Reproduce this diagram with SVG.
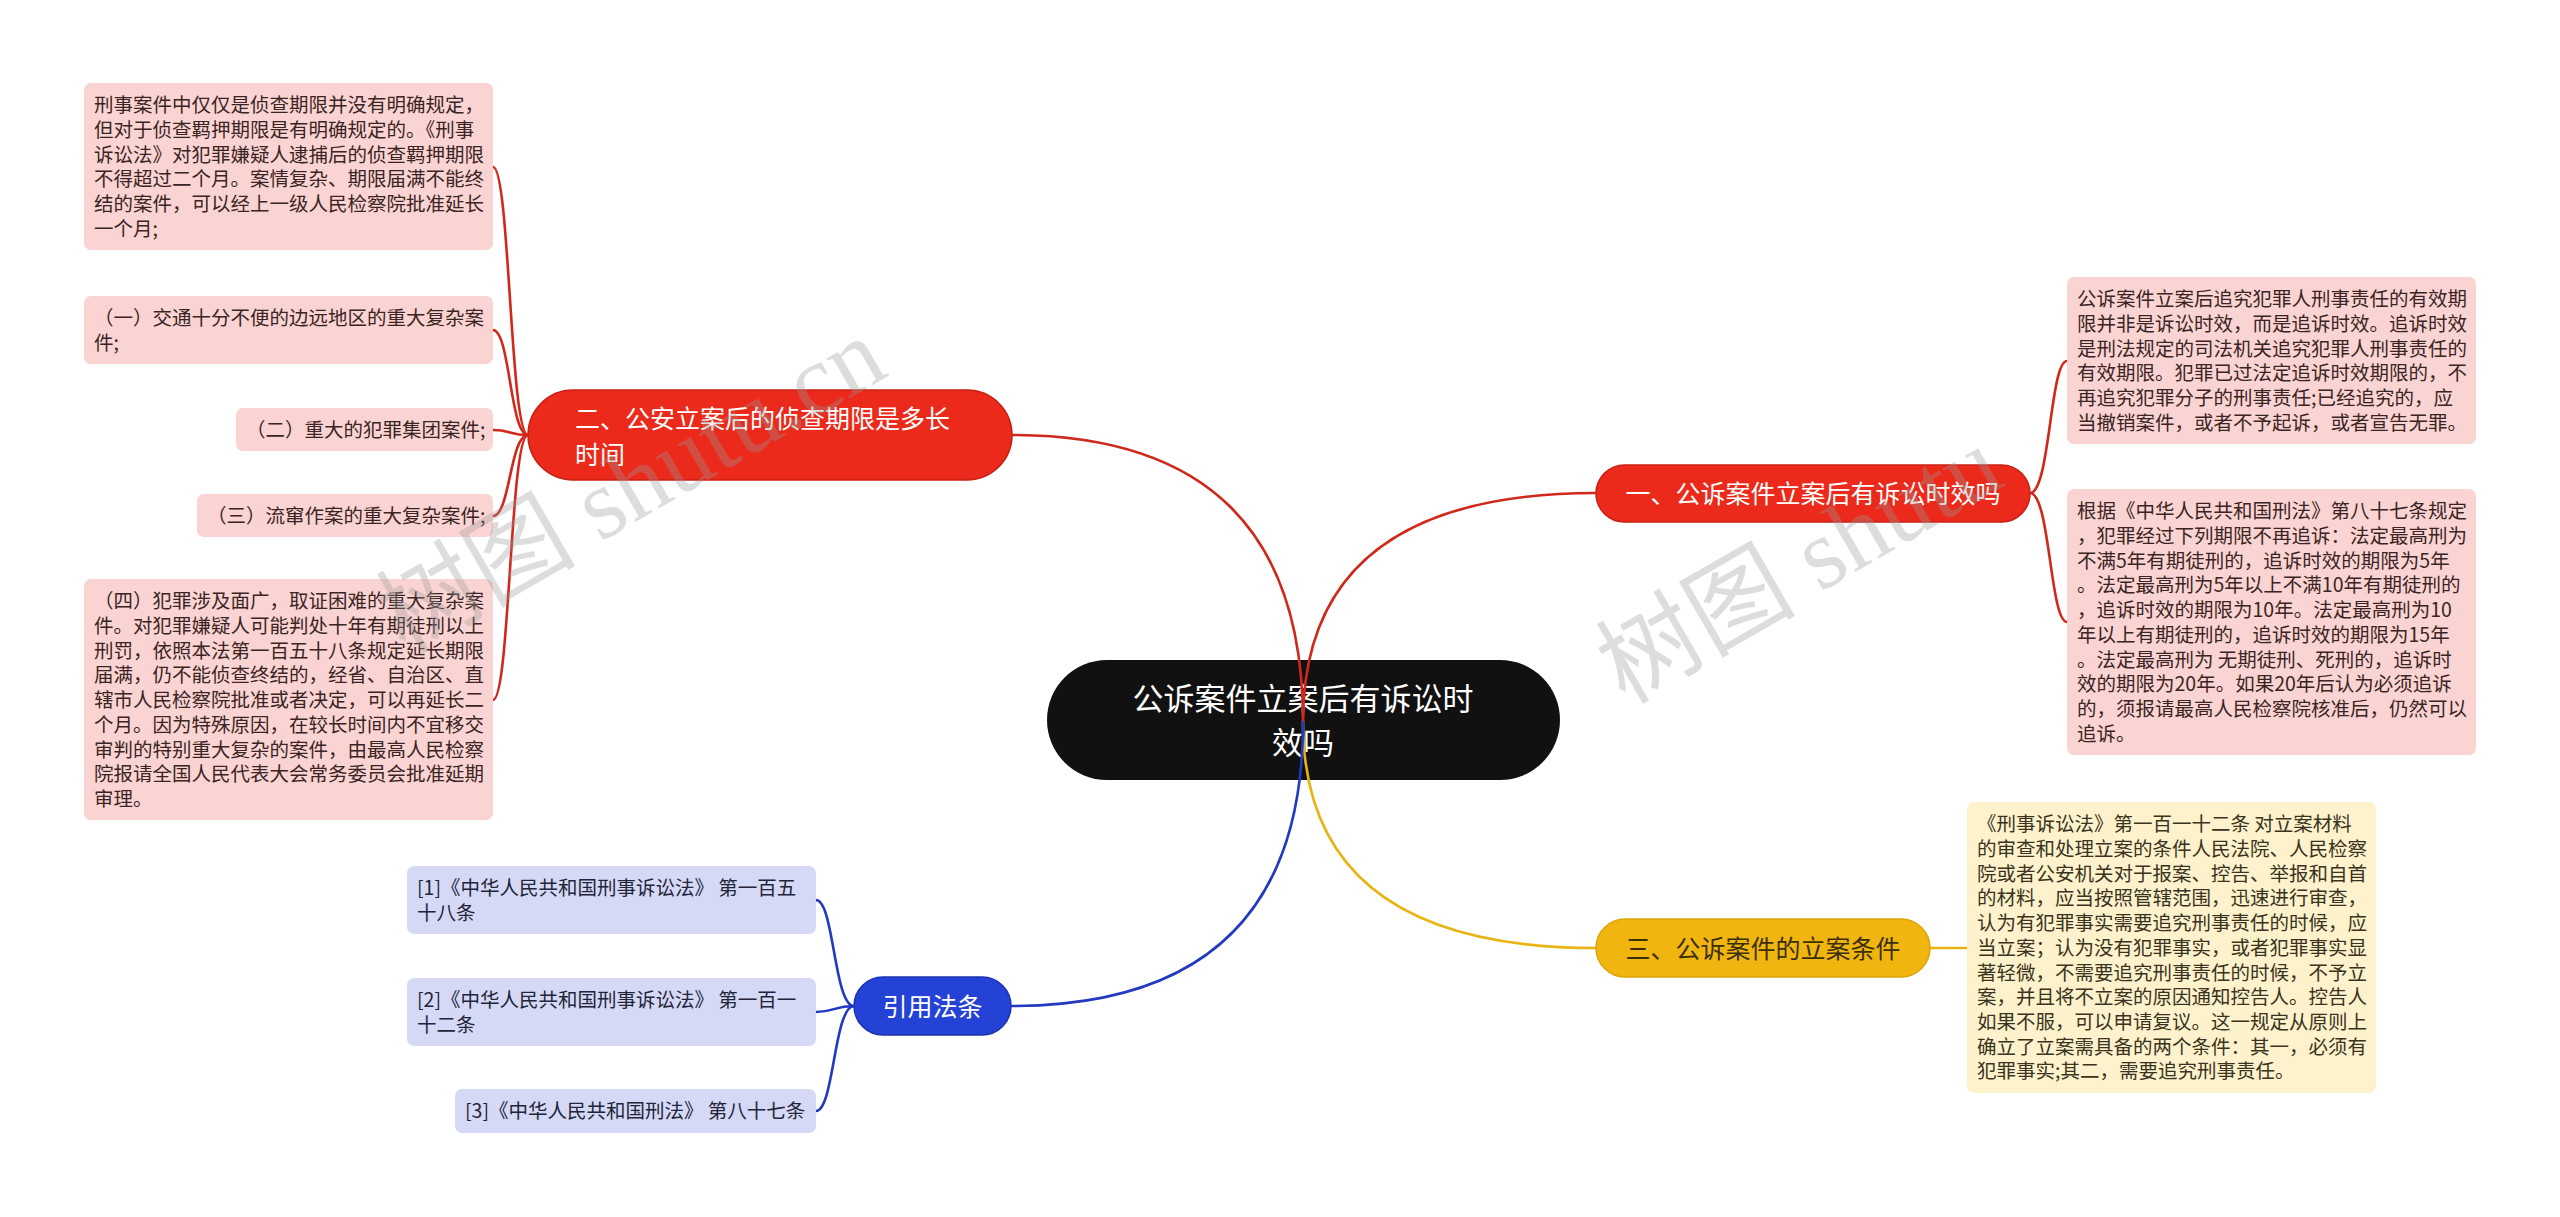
<svg xmlns="http://www.w3.org/2000/svg" width="2560" height="1217" viewBox="0 0 2560 1217">
<style>
text{font-family:"Noto Sans CJK SC","Noto Sans",sans-serif;}
.leafR rect{fill:#FAD4D2;}
.leafR text{fill:#3a2424;font-size:19.5px;}
.leafY rect{fill:#FDF2CC;}
.leafY text{fill:#3a3320;font-size:19.5px;}
.leafB rect{fill:#D5D9F5;}
.leafB text{fill:#22253a;font-size:19.5px;}
.br text{font-size:25px;}
.red rect{fill:#EC2A1B;stroke:#C92014;stroke-width:1.5;}
.yel rect{fill:#F0B60F;stroke:#DDA40A;stroke-width:1.5;}
.blu rect{fill:#2442D6;stroke:#1A33B0;stroke-width:1.5;}
.wt{fill:#ffffff;}
.dk{fill:#3b2f0a;}
.c{fill:none;stroke-width:2.6;stroke-linecap:round;}
.cr{stroke:#D0281B;}
.cy{stroke:#E8B313;}
.cb{stroke:#2339C2;}
.wm{fill:#9a9a9a;opacity:0.33;font-size:100px;font-family:"Liberation Serif","Noto Sans CJK SC",serif;}
</style>

<g id="center">
<rect x="1047" y="660" width="513" height="120" rx="60" fill="#111111"/>
<text x="1303" y="710" font-size="31" fill="#ffffff" text-anchor="middle">公诉案件立案后有诉讼时</text>
<text x="1303" y="754" font-size="31" fill="#ffffff" text-anchor="middle">效吗</text>
</g>

<g id="connectors">
<path class="c cr" d="M1303,722 Q1303,493 1596,493"/>
<path class="c cr" d="M1303,722 Q1303,435 1012,435"/>
<path class="c cy" d="M1303,722 Q1303,948 1596,948"/>
<path class="c cb" d="M1303,722 Q1303,1006 1011,1006"/>
<path class="c cr" d="M2030,493 C2050,493 2050,361 2067,361"/>
<path class="c cr" d="M2030,493 C2050,493 2050,622 2067,622"/>
<path class="c cr" d="M528,435 C510,435 510,167 493,167"/>
<path class="c cr" d="M528,435 C510,435 510,330 493,330"/>
<path class="c cr" d="M528,435 C510,435 510,430 493,430"/>
<path class="c cr" d="M528,435 C510,435 510,516 493,516"/>
<path class="c cr" d="M528,435 C510,435 510,700 493,700"/>
<path class="c cy" d="M1930,948 L1967,948"/>
<path class="c cb" d="M854,1006 C834,1006 834,900 816,900"/>
<path class="c cb" d="M854,1006 C834,1006 834,1012 816,1012"/>
<path class="c cb" d="M854,1006 C834,1006 834,1111 816,1111"/>
</g>

<g id="branch1" class="br red">
<rect x="1596" y="465" width="434" height="57" rx="28.5"/>
<text class="wt" x="1813" y="503" text-anchor="middle">一、公诉案件立案后有诉讼时效吗</text>
</g>
<g id="branch2" class="br red">
<rect x="528" y="390" width="484" height="90" rx="45"/>
<text class="wt" x="575" y="427.5">二、公安立案后的侦查期限是多长</text>
<text class="wt" x="575" y="463.5">时间</text>
</g>
<g id="branch3" class="br yel">
<rect x="1596" y="919" width="334" height="58" rx="29"/>
<text class="dk" x="1763" y="957.5" text-anchor="middle">三、公诉案件的立案条件</text>
</g>
<g id="branch4" class="br blu">
<rect x="854" y="977" width="157" height="58" rx="29"/>
<text class="wt" x="932.5" y="1015.5" text-anchor="middle">引用法条</text>
</g>

<g id="leaf-r1" class="leafR">
<rect x="2067" y="277" width="409" height="167" rx="7"/>
<text x="2077" y="306.3">公诉案件立案后追究犯罪人刑事责任的有效期</text>
<text x="2077" y="331">限并非是诉讼时效，而是追诉时效。追诉时效</text>
<text x="2077" y="355.7">是刑法规定的司法机关追究犯罪人刑事责任的</text>
<text x="2077" y="380.4">有效期限。犯罪已过法定追诉时效期限的，不</text>
<text x="2077" y="405.1">再追究犯罪分子的刑事责任;已经追究的，应</text>
<text x="2077" y="429.8">当撤销案件，或者不予起诉，或者宣告无罪。</text>
</g>
<g id="leaf-r2" class="leafR">
<rect x="2067" y="489" width="409" height="266" rx="7"/>
<text x="2077" y="518.3">根据《中华人民共和国刑法》第八十七条规定</text>
<text x="2077" y="543">，犯罪经过下列期限不再追诉：法定最高刑为</text>
<text x="2077" y="567.7">不满5年有期徒刑的，追诉时效的期限为5年</text>
<text x="2077" y="592.4">。法定最高刑为5年以上不满10年有期徒刑的</text>
<text x="2077" y="617.1">，追诉时效的期限为10年。法定最高刑为10</text>
<text x="2077" y="641.8">年以上有期徒刑的，追诉时效的期限为15年</text>
<text x="2077" y="666.5">。法定最高刑为 无期徒刑、死刑的，追诉时</text>
<text x="2077" y="691.2">效的期限为20年。如果20年后认为必须追诉</text>
<text x="2077" y="715.9">的，须报请最高人民检察院核准后，仍然可以</text>
<text x="2077" y="740.6">追诉。</text>
</g>

<g id="leaf-l1" class="leafR">
<rect x="84" y="83" width="409" height="167" rx="7"/>
<text x="94" y="112.3">刑事案件中仅仅是侦查期限并没有明确规定，</text>
<text x="94" y="137">但对于侦查羁押期限是有明确规定的。《刑事</text>
<text x="94" y="161.7">诉讼法》对犯罪嫌疑人逮捕后的侦查羁押期限</text>
<text x="94" y="186.4">不得超过二个月。案情复杂、期限届满不能终</text>
<text x="94" y="211.1">结的案件，可以经上一级人民检察院批准延长</text>
<text x="94" y="235.8">一个月;</text>
</g>
<g id="leaf-l2" class="leafR">
<rect x="84" y="296" width="409" height="68" rx="7"/>
<text x="94" y="325.3">（一）交通十分不便的边远地区的重大复杂案</text>
<text x="94" y="350">件;</text>
</g>
<g id="leaf-l3" class="leafR">
<rect x="236" y="408" width="257" height="43" rx="7"/>
<text x="246" y="437">（二）重大的犯罪集团案件;</text>
</g>
<g id="leaf-l4" class="leafR">
<rect x="197" y="494" width="296" height="43" rx="7"/>
<text x="207" y="523">（三）流窜作案的重大复杂案件;</text>
</g>
<g id="leaf-l5" class="leafR">
<rect x="84" y="579" width="409" height="241" rx="7"/>
<text x="94" y="608.3">（四）犯罪涉及面广，取证困难的重大复杂案</text>
<text x="94" y="633">件。对犯罪嫌疑人可能判处十年有期徒刑以上</text>
<text x="94" y="657.7">刑罚，依照本法第一百五十八条规定延长期限</text>
<text x="94" y="682.4">届满，仍不能侦查终结的，经省、自治区、直</text>
<text x="94" y="707.1">辖市人民检察院批准或者决定，可以再延长二</text>
<text x="94" y="731.8">个月。因为特殊原因，在较长时间内不宜移交</text>
<text x="94" y="756.5">审判的特别重大复杂的案件，由最高人民检察</text>
<text x="94" y="781.2">院报请全国人民代表大会常务委员会批准延期</text>
<text x="94" y="805.9">审理。</text>
</g>

<g id="leaf-y1" class="leafY">
<rect x="1967" y="802" width="409" height="291" rx="7"/>
<text x="1977" y="831.3">《刑事诉讼法》第一百一十二条 对立案材料</text>
<text x="1977" y="856">的审查和处理立案的条件人民法院、人民检察</text>
<text x="1977" y="880.7">院或者公安机关对于报案、控告、举报和自首</text>
<text x="1977" y="905.4">的材料，应当按照管辖范围，迅速进行审查，</text>
<text x="1977" y="930.1">认为有犯罪事实需要追究刑事责任的时候，应</text>
<text x="1977" y="954.8">当立案；认为没有犯罪事实，或者犯罪事实显</text>
<text x="1977" y="979.5">著轻微，不需要追究刑事责任的时候，不予立</text>
<text x="1977" y="1004.2">案，并且将不立案的原因通知控告人。控告人</text>
<text x="1977" y="1028.9">如果不服，可以申请复议。这一规定从原则上</text>
<text x="1977" y="1053.6">确立了立案需具备的两个条件：其一，必须有</text>
<text x="1977" y="1078.3">犯罪事实;其二，需要追究刑事责任。</text>
</g>

<g id="leaf-b1" class="leafB">
<rect x="407" y="866" width="409" height="68" rx="7"/>
<text x="417" y="895.3">[1]《中华人民共和国刑事诉讼法》 第一百五</text>
<text x="417" y="920">十八条</text>
</g>
<g id="leaf-b2" class="leafB">
<rect x="407" y="978" width="409" height="68" rx="7"/>
<text x="417" y="1007.3">[2]《中华人民共和国刑事诉讼法》 第一百一</text>
<text x="417" y="1032">十二条</text>
</g>
<g id="leaf-b3" class="leafB">
<rect x="455" y="1089" width="361" height="44" rx="7"/>
<text x="465" y="1118.3">[3]《中华人民共和国刑法》 第八十七条</text>
</g>

<g id="watermarks">
<text class="wm" x="405" y="655" transform="rotate(-30 405 655)">树图 shutu.cn</text>
<text class="wm" x="1625" y="705" transform="rotate(-30 1625 705)">树图 shutu</text>
</g>
</svg>
